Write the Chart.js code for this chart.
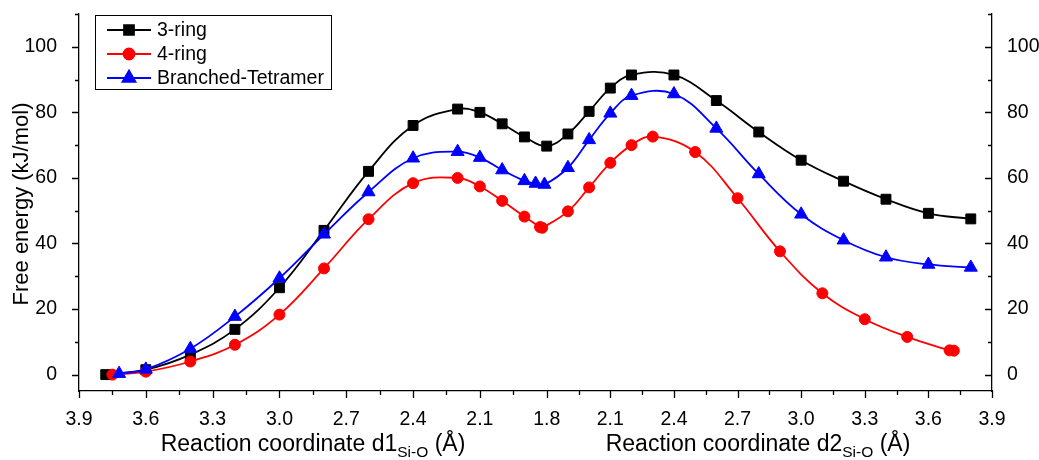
<!DOCTYPE html>
<html lang="en">
<head>
<meta charset="UTF-8">
<title>Free energy profile</title>
<script src="https://cdn.jsdelivr.net/npm/chart.js"></script>
<style>
  body { margin: 0; background: #fff; }
  canvas { display: block; }
</style>
</head>
<body>
<canvas id="energyChart" width="1039" height="460"></canvas>
<script>
// left half of the axis: d1 goes 3.9 -> 1.8, right half: d2 goes 1.8 -> 3.9
const d1Ring3 = [3.78, 3.6, 3.4, 3.2, 3.0, 2.8, 2.6, 2.4, 2.2, 2.1, 2.0, 1.9, 1.8];
const e1Ring3 = [0, 1.5, 6.1, 13.8, 26.5, 44, 62, 76, 81, 80, 76.5, 72.5, 69.7];
const d2Ring3 = [1.9, 2.0, 2.1, 2.2, 2.4, 2.6, 2.8, 3.0, 3.2, 3.4, 3.6, 3.8];
const e2Ring3 = [73.4, 80.3, 87.4, 91.4, 91.4, 83.6, 74, 65.4, 59, 53.5, 49.2, 47.5];

const d1Ring4 = [3.75, 3.6, 3.4, 3.2, 3.0, 2.8, 2.6, 2.4, 2.2, 2.1, 2.0, 1.9, 1.83, 1.82];
const e1Ring4 = [0, 0.9, 4.0, 9.1, 18.3, 32.4, 47.4, 58.4, 60.0, 57.4, 53.0, 48.2, 45, 44.8];
const d2Ring4 = [1.9, 2.0, 2.1, 2.2, 2.3, 2.5, 2.7, 2.9, 3.1, 3.3, 3.5, 3.7, 3.72];
const e2Ring4 = [49.8, 57.1, 64.6, 70, 72.6, 67.9, 53.8, 37.6, 24.8, 16.9, 11.5, 7.4, 7.3];

const d1Branched = [3.72, 3.6, 3.4, 3.2, 3.0, 2.8, 2.6, 2.4, 2.2, 2.1, 2.0, 1.9, 1.85, 1.81];
const e1Branched = [0.3, 1.6, 7.9, 17.7, 29.4, 42.8, 55.7, 66, 68, 66.2, 62.4, 59.1, 58.3, 58];
const d2Branched = [1.9, 2.0, 2.1, 2.2, 2.4, 2.6, 2.8, 3.0, 3.2, 3.4, 3.6, 3.8];
const e2Branched = [63.1, 71.6, 79.7, 85.1, 85.6, 75.1, 61.2, 48.9, 41, 35.8, 33.6, 32.7];

const seriesNames = ['3-ring', '4-ring', 'Branched-Tetramer'];
const xTicksLeft = [3.9, 3.6, 3.3, 3.0, 2.7, 2.4, 2.1, 1.8];
const xTicksRight = [2.1, 2.4, 2.7, 3.0, 3.3, 3.6, 3.9];
const yTicks = [0, 20, 40, 60, 80, 100];
const yMinorTicks = [10, 30, 50, 70, 90, 110];
const Y_MIN = -5, Y_MAX = 110;

const FONT = "'Liberation Sans', Arial, sans-serif";
const RIGHT_SCALE = 63.6 / 66.8; // the d2 half is drawn a bit narrower

function posLeft(d) { return (3.9 - d) / 0.3; }
function posRight(d) { return 7 + (d - 1.8) / 0.3 * RIGHT_SCALE; }
function toPoints(d1, e1, d2, e2) {
  return d1.map((d, i) => ({x: posLeft(d), y: e1[i]}))
    .concat(d2.map((d, i) => ({x: posRight(d), y: e2[i]})));
}

const xTickPos = xTicksLeft.map(posLeft).concat(xTicksRight.map(posRight));
const xTickLabels = xTicksLeft.concat(xTicksRight).map(v => v.toFixed(1));
const xMinorPos = [];
for (let i = 0; i < xTickPos.length - 1; i++) xMinorPos.push((xTickPos[i] + xTickPos[i + 1]) / 2);

const colors = ['#000000', '#ff0000', '#0000ff'];
const markers = ['rect', 'circle', 'triangle'];
const markerSize = [7, 5.5, 7.5];

// ticks: left and bottom point out, right axis points in
const axisTicks = {
  id: 'axisTicks',
  afterDraw(chart) {
    const {ctx, chartArea: a, scales: {x, y}} = chart;
    ctx.save();
    ctx.strokeStyle = '#000';
    ctx.lineWidth = 1.3;
    ctx.beginPath();
    xTickPos.forEach(v => {
      const px = Math.round(x.getPixelForValue(v)) + 0.5;
      ctx.moveTo(px, a.bottom); ctx.lineTo(px, a.bottom + 7);
    });
    xMinorPos.forEach(v => {
      const px = Math.round(x.getPixelForValue(v)) + 0.5;
      ctx.moveTo(px, a.bottom); ctx.lineTo(px, a.bottom + 4);
    });
    yTicks.forEach(v => {
      const py = Math.round(y.getPixelForValue(v)) + 0.5;
      ctx.moveTo(a.left, py); ctx.lineTo(a.left - 7, py);
      ctx.moveTo(a.right, py); ctx.lineTo(a.right - 7, py);
    });
    yMinorTicks.forEach(v => {
      const py = Math.round(y.getPixelForValue(v)) + 0.5;
      ctx.moveTo(a.left, py); ctx.lineTo(a.left - 4, py);
      ctx.moveTo(a.right, py); ctx.lineTo(a.right - 4, py);
    });
    ctx.stroke();

    // axis titles (x titles need a subscript)
    ctx.fillStyle = '#000';
    ctx.textBaseline = 'alphabetic';
    function subTitle(cx, base, sub, tail) {
      ctx.font = '23px ' + FONT;
      const w1 = ctx.measureText(base).width;
      const w3 = ctx.measureText(tail).width;
      ctx.font = '15.5px ' + FONT;
      const w2 = ctx.measureText(sub).width;
      let sx = cx - (w1 + w2 + w3) / 2;
      ctx.font = '23px ' + FONT;
      ctx.fillText(base, sx, 451);
      ctx.font = '15.5px ' + FONT;
      ctx.fillText(sub, sx + w1, 457);
      ctx.font = '23px ' + FONT;
      ctx.fillText(tail, sx + w1 + w2, 451);
    }
    subTitle(313, 'Reaction coordinate d1', 'Si-O', ' (\u00C5)');
    subTitle(758, 'Reaction coordinate d2', 'Si-O', ' (\u00C5)');

    ctx.save();
    ctx.translate(22, 204);
    ctx.rotate(-Math.PI / 2);
    ctx.font = '22px ' + FONT;
    ctx.textAlign = 'center';
    ctx.textBaseline = 'middle';
    ctx.fillText('Free energy (kJ/mol)', 0, 0);
    ctx.restore();

    // legend box
    ctx.lineWidth = 1;
    ctx.strokeRect(95.5, 15.5, 236, 74);
    const rows = [30, 54, 78];
    ctx.font = '19.5px ' + FONT;
    ctx.textAlign = 'left';
    ctx.textBaseline = 'middle';
    rows.forEach((ry, i) => {
      ctx.strokeStyle = colors[i];
      ctx.lineWidth = 1.8;
      ctx.beginPath();
      ctx.moveTo(107, ry); ctx.lineTo(151, ry);
      ctx.stroke();
      Chart.helpers.drawPoint(ctx, {pointStyle: markers[i], radius: markerSize[i], borderWidth: 1}, 129, ry);
      ctx.fillStyle = colors[i];
      ctx.fill();
      ctx.fillStyle = '#000';
      ctx.fillText(seriesNames[i], 157, ry + 1);
    });
    ctx.restore();
  }
};

function makeSet(i, points) {
  return {
    label: seriesNames[i],
    data: points,
    borderColor: colors[i],
    backgroundColor: colors[i],
    pointBackgroundColor: colors[i],
    pointBorderColor: colors[i],
    pointBorderWidth: 1,
    pointStyle: markers[i],
    pointRadius: markerSize[i],
    borderWidth: 1.8,
    tension: 0.4,
    order: 3 - i,
    clip: false
  };
}

const tickFont = {family: FONT, size: 19.5};

function fixY(s) {
  s.ticks = yTicks.map(v => ({value: v}));
  s.min = Y_MIN;
  s.max = Y_MAX;
}
function fitY(width) {
  return s => {
    s.width = width;
    s.paddingTop = 0;
    s.paddingBottom = 0;
  };
}

new Chart(document.getElementById('energyChart').getContext('2d'), {
  type: 'line',
  data: {
    datasets: [
      makeSet(0, toPoints(d1Ring3, e1Ring3, d2Ring3, e2Ring3)),
      makeSet(1, toPoints(d1Ring4, e1Ring4, d2Ring4, e2Ring4)),
      makeSet(2, toPoints(d1Branched, e1Branched, d2Branched, e2Branched))
    ]
  },
  options: {
    responsive: false,
    animation: false,
    layout: {padding: {top: 14, left: 0, right: 0, bottom: 0}},
    plugins: {legend: {display: false}, tooltip: {enabled: false}},
    scales: {
      x: {
        type: 'linear',
        min: 0,
        max: posRight(3.9),
        afterBuildTicks: s => { s.ticks = xTickPos.map(v => ({value: v})); },
        afterFit: s => { s.height = 69; s.paddingLeft = 0; s.paddingRight = 0; },
        grid: {display: false},
        border: {display: true, color: '#000', width: 1.3},
        ticks: {callback: (v, i) => xTickLabels[i], color: '#000', font: tickFont, padding: 9, maxRotation: 0, autoSkip: false}
      },
      y: {
        min: Y_MIN,
        max: Y_MAX,
        afterBuildTicks: fixY,
        afterFit: fitY(79),
        grid: {display: false},
        border: {display: true, color: '#000', width: 1.3},
        ticks: {color: '#000', font: tickFont, padding: 14}
      },
      y2: {
        position: 'right',
        min: Y_MIN,
        max: Y_MAX,
        afterBuildTicks: fixY,
        afterFit: fitY(47),
        grid: {display: false},
        border: {display: true, color: '#000', width: 1.3},
        ticks: {color: '#000', font: tickFont, padding: 7}
      }
    }
  },
  plugins: [axisTicks]
});
</script>
</body>
</html>
